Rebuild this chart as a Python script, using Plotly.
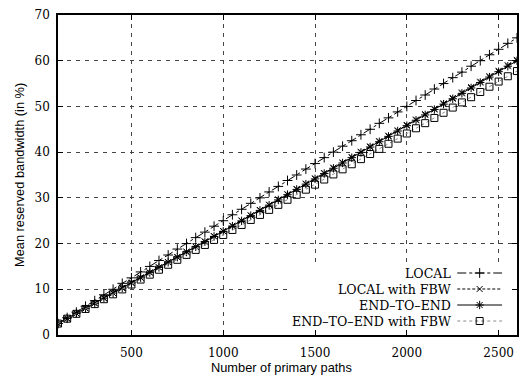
import plotly.graph_objects as go

# ---------------- data ----------------
paths = [100, 150, 200, 250, 300, 350, 400, 450, 500, 550,
         600, 650, 700, 750, 800, 850, 900, 950, 1000, 1050,
         1100, 1150, 1200, 1250, 1300, 1350, 1400, 1450, 1500, 1550,
         1600, 1650, 1700, 1750, 1800, 1850, 1900, 1950, 2000, 2050,
         2100, 2150, 2200, 2250, 2300, 2350, 2400, 2450, 2500, 2550,
         2600]

local = [2.5, 3.8, 5.0, 6.3, 7.5, 8.8, 10.0, 11.3, 12.5, 13.8,
         15.0, 16.3, 17.5, 18.8, 20.0, 21.3, 22.5, 23.8, 25.0, 26.3,
         27.5, 28.8, 30.0, 31.3, 32.5, 33.8, 35.0, 36.3, 37.5, 38.8,
         40.0, 41.3, 42.5, 43.8, 45.0, 46.3, 47.5, 48.8, 50.0, 51.3,
         52.5, 53.8, 55.0, 56.3, 57.5, 58.8, 60.0, 61.3, 62.5, 63.8,
         65.0]

local_fbw = [2.50, 3.61, 4.73, 5.84, 6.96, 8.07, 9.19, 10.31, 11.43, 12.57,
             13.69, 14.81, 15.95, 17.08, 18.22, 19.35, 20.48, 21.63, 22.76, 23.91,
             25.05, 26.19, 27.35, 28.49, 29.65, 30.80, 31.95, 33.11, 34.26, 35.43,
             36.59, 37.75, 38.92, 40.08, 41.26, 42.42, 43.59, 44.77, 45.94, 47.13,
             48.30, 49.48, 50.67, 51.85, 53.04, 54.22, 55.41, 56.61, 57.79, 59.00,
             60.19]

e2e = [2.50, 3.61, 4.72, 5.83, 6.94, 8.05, 9.17, 10.28, 11.40, 12.53,
       13.65, 14.77, 15.90, 17.03, 18.16, 19.29, 20.42, 21.56, 22.69, 23.83,
       24.97, 26.11, 27.26, 28.40, 29.55, 30.70, 31.85, 33.00, 34.15, 35.31,
       36.47, 37.63, 38.79, 39.95, 41.12, 42.28, 43.45, 44.62, 45.79, 46.97,
       48.14, 49.32, 50.50, 51.68, 52.86, 54.04, 55.23, 56.42, 57.60, 58.80,
       59.99]

e2e_fbw = [2.50, 3.57, 4.63, 5.70, 6.76, 7.83, 8.90, 9.97, 11.04, 12.13,
           13.20, 14.28, 15.36, 16.45, 17.53, 18.62, 19.70, 20.80, 21.88, 22.98,
           24.07, 25.17, 26.27, 27.37, 28.47, 29.58, 30.68, 31.79, 32.89, 34.01,
           35.12, 36.24, 37.35, 38.47, 39.59, 40.71, 41.83, 42.96, 44.08, 45.22,
           46.34, 47.48, 48.61, 49.75, 50.88, 52.02, 53.16, 54.31, 55.44, 56.60,
           57.74]

series_names = ["LOCAL", "LOCAL with FBW", "END\u2013TO\u2013END", "END\u2013TO\u2013END with FBW"]
x_ticks = [500, 1000, 1500, 2000, 2500]
y_ticks = [0, 10, 20, 30, 40, 50, 60, 70]
x_title = "Number of primary paths"
y_title = "Mean reserved bandwidth (in %)"

# ---------------- styles ----------------
styles = [
    dict(dash="dashdot", lcolor="black", symbol="cross-thin-open", msize=7, mcolor="black"),
    dict(dash="3px,2px", lcolor="black", symbol="x-thin-open", msize=6, mcolor="black"),
    dict(dash="solid", lcolor="black", symbol="asterisk-open", msize=7, mcolor="black"),
    dict(dash="dot", lcolor="#8a8a8a", symbol="square-open", msize=7, mcolor="black"),
]
all_series = [local, local_fbw, e2e, e2e_fbw]

W, H = 524, 376
ML, MR, MT, MB = 58, 5, 15, 41

fig = go.Figure()
for name, vals, st in zip(series_names, all_series, styles):
    fig.add_trace(go.Scatter(
        x=paths, y=vals, name=name, mode="lines+markers",
        line=dict(color=st["lcolor"], width=1, dash=st["dash"]),
        marker=dict(symbol=st["symbol"], size=st["msize"],
                    color=st["mcolor"], line=dict(color=st["mcolor"], width=1)),
        showlegend=False,
    ))

# ---- custom gnuplot-style key (text right, sample left->right) in a pixel overlay ----
key_rows = [273, 289, 305, 321]
key_text_right = 455
key_line = (459, 504)
key_mark = 481.5
for name, st, yy in zip(series_names, styles, key_rows):
    fig.add_trace(go.Scatter(
        x=list(key_line), y=[yy, yy], mode="lines", xaxis="x2", yaxis="y2",
        line=dict(color=st["lcolor"], width=1, dash=st["dash"]),
        showlegend=False, hoverinfo="skip"))
    fig.add_trace(go.Scatter(
        x=[key_mark], y=[yy], mode="markers", xaxis="x2", yaxis="y2",
        marker=dict(symbol=st["symbol"], size=st["msize"], color=st["mcolor"],
                    line=dict(color=st["mcolor"], width=1)),
        showlegend=False, hoverinfo="skip"))
    fig.add_annotation(x=key_text_right, y=yy, xref="x2", yref="y2",
                       text=name, showarrow=False, xanchor="right", yanchor="middle",
                       font=dict(family="DejaVu Serif", size=12.6, color="black"))

# white key background hiding the grid (data units of the main axes)
fig.add_shape(type="rect", xref="x", yref="y", x0=1358, x1=2594, y0=0.25, y1=15.7,
              fillcolor="white", line=dict(width=0), layer="between")

axis_common = dict(
    showline=True, linecolor="black", linewidth=1.5, mirror="ticks",
    ticks="inside", ticklen=5, tickcolor="black", tickwidth=1,
    showgrid=True, gridcolor="#444444", gridwidth=1, griddash="4px,5px",
    zeroline=False,
    tickfont=dict(family="DejaVu Serif", size=12, color="black"),
)

fig.update_layout(
    width=W, height=H,
    margin=dict(l=ML, r=MR, t=MT, b=MB),
    paper_bgcolor="white", plot_bgcolor="white",
    xaxis=dict(range=[100, 2600], tickvals=x_ticks, ticklabelstandoff=6, **axis_common),
    yaxis=dict(range=[0, 70], tickvals=y_ticks, ticklabelstandoff=4, **axis_common),
    xaxis2=dict(overlaying="x", range=[ML, W - MR], visible=False, fixedrange=True),
    yaxis2=dict(overlaying="y", range=[H - MB, MT], visible=False, fixedrange=True),
    showlegend=False,
)

fig.add_annotation(x=0.486, y=-0.1, xref="paper", yref="paper", text=x_title, showarrow=False,
                   font=dict(family="Liberation Sans", size=12.8, color="black"),
                   xanchor="center", yanchor="middle")
fig.add_annotation(x=0, y=0.5, xref="paper", yref="paper", text=y_title, showarrow=False,
                   textangle=-90, xshift=-39,
                   font=dict(family="Liberation Sans", size=12.8, color="black"),
                   xanchor="center", yanchor="middle")

fig.write_html("out.html",
               config={"displayModeBar": False},
               post_script="document.body.style.margin='0';document.body.style.padding='0';")
